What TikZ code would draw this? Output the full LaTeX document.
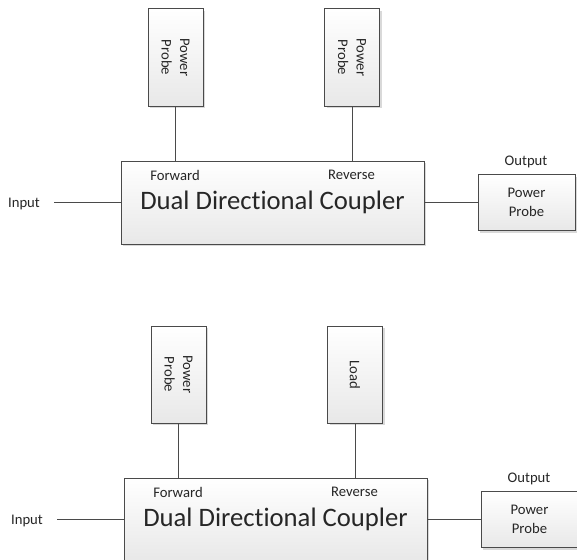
\documentclass[tikz,border=0pt]{standalone}
\usepackage{fontspec}
\setmainfont{Carlito}[Ligatures={NoCommon}]
\usetikzlibrary{shadows}
\definecolor{linec}{HTML}{4A4A4A}
\definecolor{txt}{HTML}{262626}
\tikzset{
  blk/.style={draw=linec, line width=1pt, top color=white, bottom color=black!9,
    drop shadow={shadow xshift=2pt, shadow yshift=-2pt, opacity=0.15, fill=black},
    inner sep=0pt, text=txt},
  coupler/.style={blk, minimum width=303pt, minimum height=83pt, font=\fontsize{26.67}{32}\selectfont},
  probebox/.style={blk, minimum width=55pt, minimum height=97pt},
  outbox/.style={blk, minimum width=97pt, minimum height=56pt, align=center, font=\fontsize{14.67}{18.5}\selectfont},
  vlab/.style={rotate=-90, align=center, text=txt, font=\fontsize{14.67}{18.5}\selectfont},
  lab/.style={text=txt, inner sep=0pt, font=\fontsize{14.67}{18}\selectfont},
  conn/.style={draw=linec, line width=1pt},
}
\begin{document}
\begin{tikzpicture}[x=1pt, y=-1pt]
\useasboundingbox (0,0) rectangle (577,559);
\clip (0,0) rectangle (577,559);
% ---------- upper diagram ----------
\begin{scope}
  \node[coupler] (aC) at (272.5,202.5) {Dual Directional Coupler};
  \node[probebox, label={[vlab]center:{Power\\Probe}}] (aP1) at (175.5,57.5) {};
  \node[probebox, label={[vlab]center:{Power\\Probe}}] (aP2) at (352,57.5) {};
  \node[outbox] (aO) at (526.5,202.5) {Power\\Probe};
  \node[lab] (aF) at (175,175) {Forward};
  \node[lab] (aR) at (351.5,175) {Reverse};
  \node[lab] (aIn) at (24,204) {Input};
  \node[lab] (aOut) at (526,162) {Output};
  \coordinate (aInL) at (54,202.5);
  \draw[conn] (aP1.south) -- (aP1.south |- aC.north);
  \draw[conn] (aP2.south) -- (aP2.south |- aC.north);
  \draw[conn] (aInL) -- (aC.west);
  \draw[conn] (aC.east) -- (aO.west);
\end{scope}
% ---------- lower diagram ----------
\begin{scope}[shift={(3,317)}]
  \node[coupler] (bC) at (272.5,202.5) {Dual Directional Coupler};
  \node[probebox, label={[vlab]center:{Power\\Probe}}] (bP1) at (175.5,57.5) {};
  \node[probebox, label={[vlab]center:{Load}}] (bP2) at (352,57.5) {};
  \node[outbox] (bO) at (526.5,202.5) {Power\\Probe};
  \node[lab] (bF) at (175,175) {Forward};
  \node[lab] (bR) at (351.5,175) {Reverse};
  \node[lab] (bIn) at (24,204) {Input};
  \node[lab] (bOut) at (526,162) {Output};
  \coordinate (bInL) at (54,202.5);
  \draw[conn] (bP1.south) -- (bP1.south |- bC.north);
  \draw[conn] (bP2.south) -- (bP2.south |- bC.north);
  \draw[conn] (bInL) -- (bC.west);
  \draw[conn] (bC.east) -- (bO.west);
\end{scope}
\end{tikzpicture}
\end{document}
